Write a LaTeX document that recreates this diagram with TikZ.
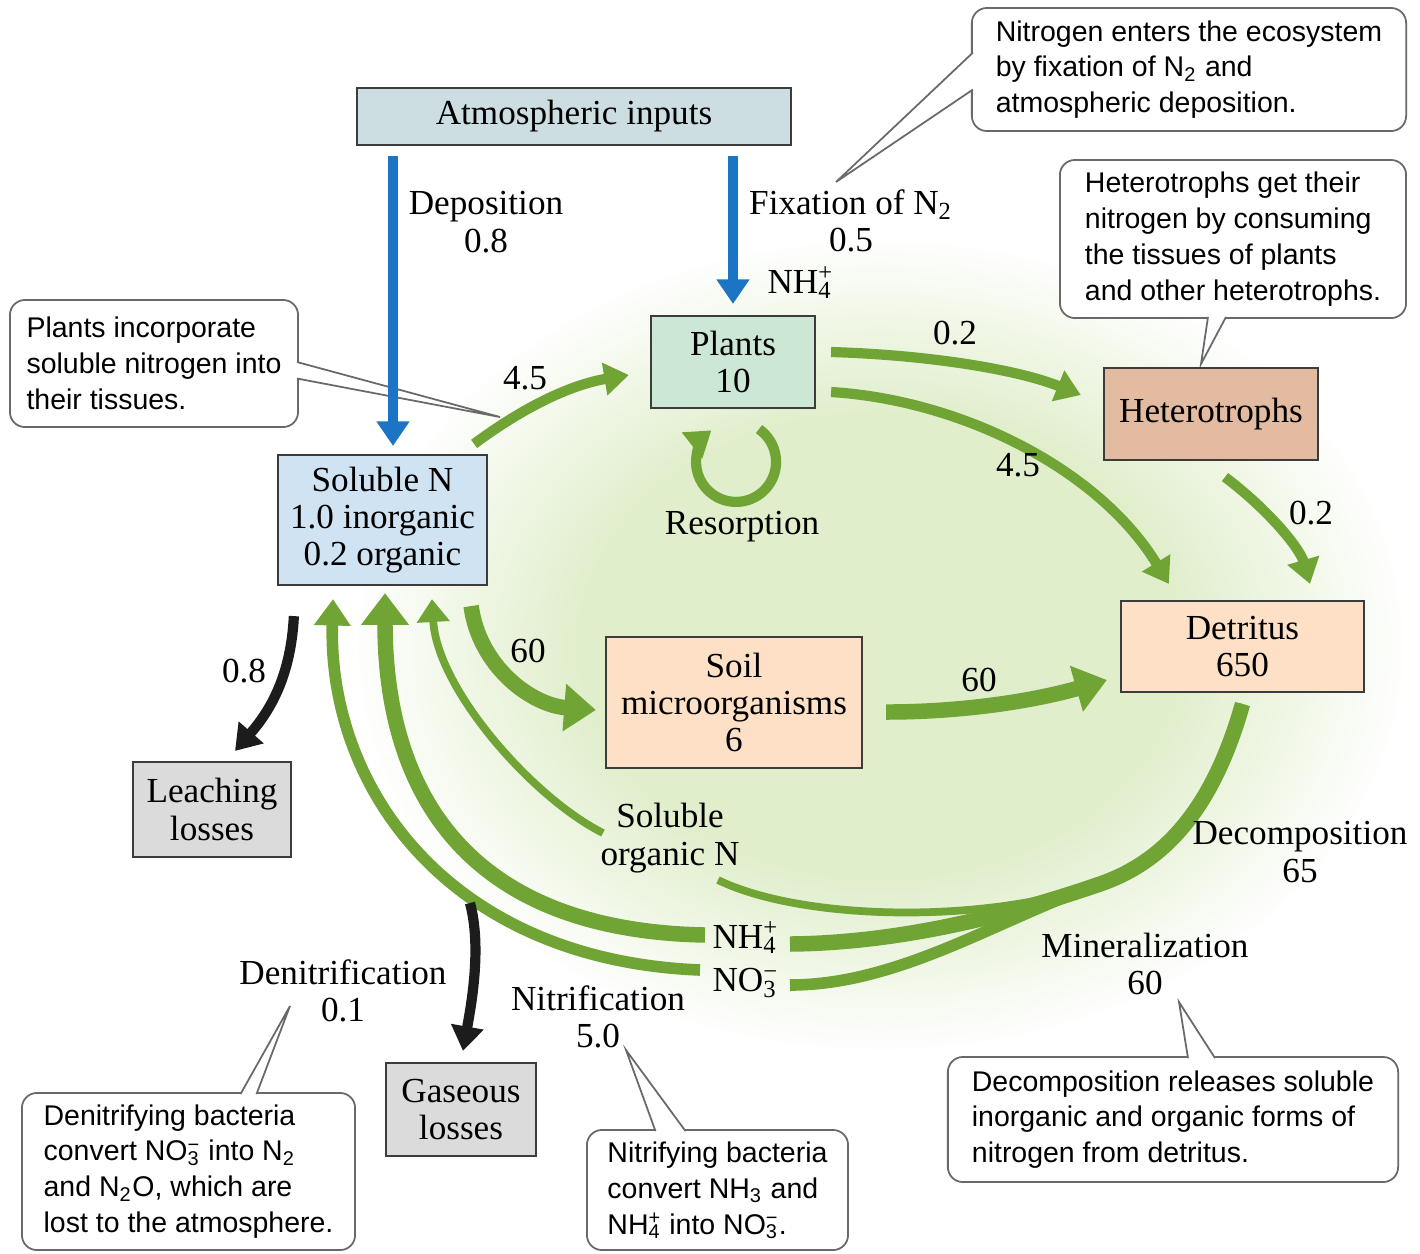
\documentclass[tikz,border=0pt]{standalone}
\usepackage{fontspec}
\setmainfont{Liberation Serif}
\newfontfamily\notefont{Liberation Sans}
\usetikzlibrary{arrows.meta, shapes.misc}
\definecolor{boxline}{RGB}{60,60,60}
\definecolor{atmosblue}{RGB}{204,222,226}
\definecolor{plantgreen}{RGB}{204,231,212}
\definecolor{solblue}{RGB}{208,227,242}
\definecolor{hettan}{RGB}{226,187,161}
\definecolor{peach}{RGB}{253,224,198}
\definecolor{lossgray}{RGB}{219,219,219}
\definecolor{flowgreen}{RGB}{112,164,52}
\definecolor{inblue}{RGB}{28,117,196}
\definecolor{lossblack}{RGB}{28,28,28}
\definecolor{glow}{RGB}{224,238,203}
\definecolor{notegray}{RGB}{105,105,105}
% soft green patch behind the soil compartments
\pgfdeclareradialshading{soilglow}{\pgfpoint{0bp}{0bp}}{color(0bp)=(glow); color(14bp)=(glow); color(25bp)=(white); color(50bp)=(white)}
% ion with stacked charge and count
\newcommand{\chemion}[2]{\rlap{\textsuperscript{#2}}\textsubscript{#1}}

\begin{document}
\begin{tikzpicture}[
  x=0.01cm, y=-0.01cm,
  box/.style={rectangle, draw=boxline, line width=0.6pt, inner sep=0pt, align=center,
              font=\fontsize{10}{10.6}\selectfont},
  lbl/.style={align=center, inner sep=0pt, font=\fontsize{10}{10.6}\selectfont},
  note/.style={rectangle, rounded corners=0.15cm, draw=notegray, line width=0.5pt, fill=white,
               align=left, inner sep=0pt, font=\notefont\fontsize{8.1}{10.2}\selectfont},
  pointer/.style={draw=notegray, line width=0.5pt, fill=white},
  input/.style={draw=inblue, line width=2.9pt, -{Triangle[width=9pt,length=7pt]}},
  loss/.style={draw=lossblack, line width=2.9pt, -{Triangle[width=9pt,length=7pt]}},
  flow/.style={draw=flowgreen, line width=2.9pt, -{Triangle[width=9pt,length=7pt]}},
  bigflow/.style={draw=flowgreen, line width=4.4pt, -{Triangle[width=13pt,length=9pt]}},
  midflow/.style={draw=flowgreen, line width=3.3pt, -{Triangle[width=10pt,length=7.5pt]}},
  thinflow/.style={draw=flowgreen, line width=2.2pt, -{Triangle[width=9pt,length=6.5pt]}},
  branch/.style={draw=flowgreen}
]
% canvas
\fill[white, use as bounding box] (0,0) rectangle (1420,1253);
\shade[shading=soilglow] (880,645) ellipse [x radius=5.3cm, y radius=4.1cm];

% callouts
\coordinate (fixtip) at (836,182);
\coordinate (planttip) at (500,417);
\coordinate (hettip) at (1201,364);
\coordinate (denittip) at (290,1006);
\coordinate (nitrtip) at (626,1050);
\coordinate (decomptip) at (1179,1002);

\node[note, minimum width=4.34cm, minimum height=1.23cm] (notefix) at (1189,69.5)
  {Nitrogen enters the ecosystem\\by fixation of N\textsubscript{2} and\\atmospheric deposition.};
\path[pointer] ([shift={(2,-17)}]notefix.west) -- (fixtip) -- ([shift={(2,20)}]notefix.west);

\node[note, minimum width=2.88cm, minimum height=1.27cm] (noteplants) at (154,363.5)
  {Plants incorporate\\soluble nitrogen into\\their tissues.};
\path[pointer] ([shift={(-2,-1.5)}]noteplants.east) -- (planttip) -- ([shift={(-2,15)}]noteplants.east);

\node[note, minimum width=3.46cm, minimum height=1.58cm] (notehet) at (1233,239)
  {Heterotrophs get their\\nitrogen by consuming\\the tissues of plants\\and other heterotrophs.};
\path[pointer] ([shift={(-25,-2)}]notehet.south) -- (hettip) -- ([shift={(-7,-2)}]notehet.south);

\node[note, minimum width=3.33cm, minimum height=1.57cm] (notedenit) at (188.5,1171.5)
  {Denitrifying bacteria\\convert NO\chemion{3}{−} into N\textsubscript{2}\\and N\textsubscript{2}O, which are\\lost to the atmosphere.};
\path[pointer] ([shift={(52,2)}]notedenit.north) -- (denittip) -- ([shift={(68,2)}]notedenit.north);

\node[note, minimum width=2.61cm, minimum height=1.20cm] (notenitr) at (717.5,1190)
  {Nitrifying bacteria\\convert NH\textsubscript{3} and\\NH\chemion{4}{+} into NO\chemion{3}{−}.};
\path[pointer] ([shift={(-62,2)}]notenitr.north) -- (nitrtip) -- ([shift={(-32,2)}]notenitr.north);

\node[note, minimum width=4.50cm, minimum height=1.25cm] (notedecomp) at (1173,1119.5)
  {Decomposition releases soluble\\inorganic and organic forms of\\nitrogen from detritus.};
\path[pointer] ([shift={(15,2)}]notedecomp.north) -- (decomptip) -- ([shift={(42,2)}]notedecomp.north);

% pools
\node[box, fill=atmosblue, minimum width=4.34cm, minimum height=0.57cm] (atmos) at (574,116.5) {Atmospheric inputs};
\node[box, fill=plantgreen, minimum width=1.64cm, minimum height=0.92cm] (plants) at (733,362) {Plants\\10};
\node[box, fill=solblue, minimum width=2.09cm, minimum height=1.30cm] (soluble) at (382.5,520) {Soluble N\\1.0 inorganic\\0.2 organic};
\node[box, fill=hettan, minimum width=2.14cm, minimum height=0.92cm] (hetero) at (1211,414) {Heterotrophs};
\node[box, fill=peach, minimum width=2.43cm, minimum height=0.91cm] (detritus) at (1242.5,646.5) {Detritus\\650};
\node[box, fill=peach, minimum width=2.56cm, minimum height=1.31cm] (soil) at (734,702.5) {Soil\\microorganisms\\6};
\node[box, fill=lossgray, minimum width=1.58cm, minimum height=0.95cm] (leach) at (212,809.5) {Leaching\\losses};
\node[box, fill=lossgray, minimum width=1.50cm, minimum height=0.93cm] (gas) at (461,1109.5) {Gaseous\\losses};

% free ends of the soil flows
\coordinate (dep) at (393,0);
\coordinate (decjoin) at (1100,884);
\coordinate (orgin) at (718,880);
\coordinate (nhin) at (790,944);
\coordinate (noin) at (790,985);
\coordinate (orgout) at (603,833);
\coordinate (nhout) at (705,935);
\coordinate (noout) at (700,970);
\coordinate (gasout) at (470,903);

% atmospheric inputs
\draw[input, shorten <=0.1cm, shorten >=0.08cm] (atmos.south -| dep) -- (soluble.north -| dep);
\draw[input, shorten <=0.1cm, shorten >=0.11cm] (atmos.south -| plants.north) -- (plants.north);

% uptake and litter
\draw[flow] ([shift={(-14,-10)}]soluble.north east) .. controls +(47,-35) and +(-60,10) .. ([shift={(-21,13)}]plants.west);
\draw[flow] ([shift={(15,-10)}]plants.east) .. controls +(100,3) and +(-62,-25) .. ([shift={(-22,-19)}]hetero.west);
\draw[flow] ([shift={(15,30)}]plants.east) .. controls +(130,8) and +(-70,-115) .. ([shift={(49,-16)}]detritus.north west);
\draw[flow] ([shift={(14,16)}]hetero.south) .. controls +(45,34) and +(-10,-35) .. ([shift={(67.5,-16)}]detritus.north);
\draw[flow] ([shift={(26,20)}]plants.south) arc[start angle=55, end angle=-232, radius=0.4cm];

% immobilization and turnover
\draw[bigflow] ([shift={(-17,20)}]soluble.south east) .. controls +(8,60) and +(-65,-5) .. ([shift={(-9,7.5)}]soil.west);
\draw[bigflow] ([shift={(23,9.5)}]soil.east) .. controls +(80,0) and +(-70,20) .. ([shift={(-13,33.5)}]detritus.west);

% decomposition and mineralization
\draw[branch, line width=2.2pt] ([yshift=-0.11cm]detritus.south) .. controls +(-27.5,97) and +(70,-24) .. (decjoin)
  .. controls +(-120,41) and +(82,40) .. (orgin);
\draw[branch, line width=4.4pt] ([yshift=-0.11cm]detritus.south) .. controls +(-27.5,97) and +(70,-24) .. (decjoin)
  .. controls +(-90,31) and +(110,-1) .. (nhin);
\draw[branch, line width=3.3pt] ([yshift=-0.11cm]detritus.south) .. controls +(-27.5,97) and +(70,-24) .. (decjoin)
  .. controls +(-100,34) and +(110,0) .. (noin);

% return to the soluble pool
\draw[thinflow] (orgout) .. controls +(-70,-35) and +(5,90) .. ([shift={(49.5,13)}]soluble.south);
\draw[bigflow] (nhout) .. controls +(-255,-5) and +(0,180) .. ([shift={(2.5,7)}]soluble.south);
\draw[midflow] (noout) .. controls +(-250,-10) and +(-5,190) .. ([shift={(-49.5,13)}]soluble.south);

% losses
\draw[loss] ([shift={(17,30)}]soluble.south west) .. controls +(-3,60) and +(35,-40) .. ([shift={(23,-10)}]leach.north);
\draw[loss] (gasout) .. controls +(12,45) and +(8,-45) .. ([shift={(2,-11)}]gas.north);

% flux labels
\node[lbl] (lbldep) at (486,222) {Deposition\\0.8};
\node[lbl] (lblfix) at (851,221) {Fixation of N\textsubscript{2}\\0.5};
\node[lbl] (lblnhfix) at (800,283) {NH\chemion{4}{+}};
\node[lbl] (lblsp) at (525,378) {4.5};
\node[lbl] (lblph) at (955,333) {0.2};
\node[lbl] (lblpd) at (1018,465) {4.5};
\node[lbl] (lblhd) at (1311,513) {0.2};
\node[lbl] (lblres) at (742,527) {Resorption};
\node[lbl] (lblss) at (528,651) {60};
\node[lbl] (lblsd) at (979,680) {60};
\node[lbl] (lblleach) at (244,671) {0.8};
\node[lbl] (lblorg) at (670,838) {Soluble\\organic N};
\node[lbl] (lblnh) at (745,938) {NH\chemion{4}{+}};
\node[lbl] (lblno) at (745,983) {NO\chemion{3}{−}};
\node[lbl] (lbldecomp) at (1300,852) {Decomposition\\65};
\node[lbl] (lblmin) at (1145,964) {Mineralization\\60};
\node[lbl] (lbldenit) at (343,991) {Denitrification\\0.1};
\node[lbl] (lblnitr) at (598,1017) {Nitrification\\5.0};
\end{tikzpicture}
\end{document}
